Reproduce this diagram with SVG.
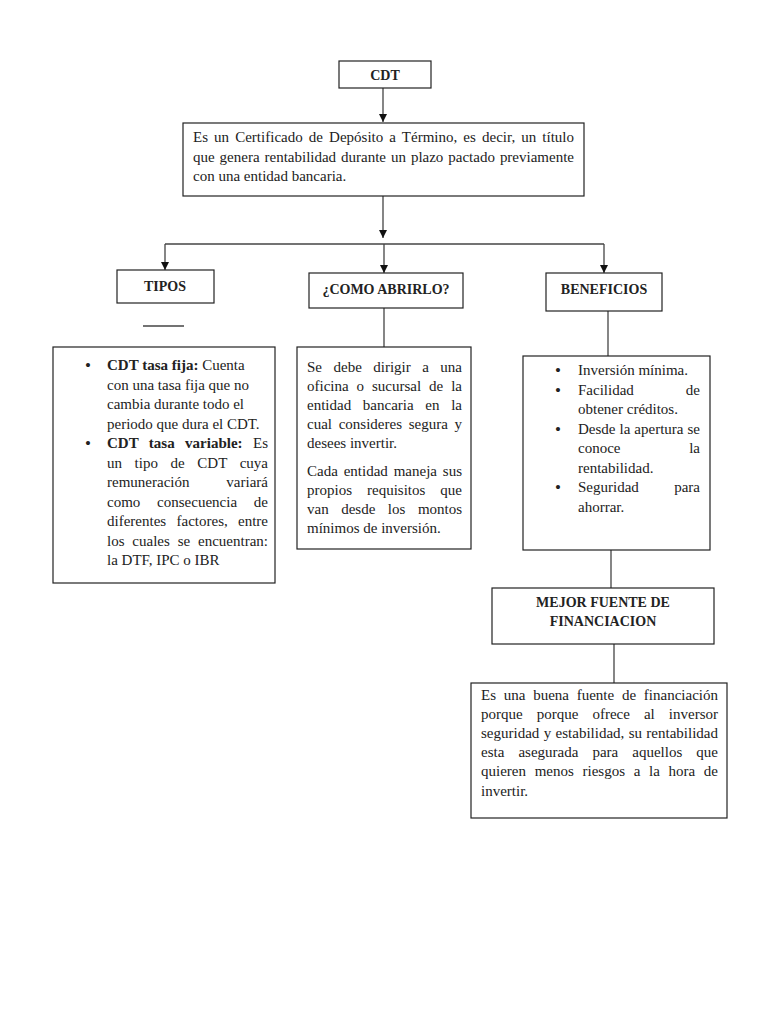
<svg xmlns="http://www.w3.org/2000/svg" width="768" height="1024" viewBox="0 0 768 1024">
<defs>
<style>
.box{fill:#fff;stroke:#222;stroke-width:1.2}
.ln{stroke:#444;stroke-width:1.3;fill:none}
text{font-family:"Liberation Serif","Times New Roman",serif;font-size:15px;fill:#222}
.h{font-weight:bold;font-size:14px;text-anchor:middle}
.b{font-weight:bold}
.e{text-anchor:end}
.bu{font-size:17px}
</style>
<marker id="ah" markerWidth="8" markerHeight="8" refX="8" refY="4" orient="auto" markerUnits="userSpaceOnUse" viewBox="0 0 8 8">
<path d="M0,0 L8,4 L0,8 Z" fill="#111"/>
</marker>
</defs>
<rect width="768" height="1024" fill="#fff"/>
<g id="connectors">
<line class="ln" x1="383" y1="88" x2="383" y2="122" marker-end="url(#ah)"/>
<line class="ln" x1="383" y1="196" x2="383" y2="238" marker-end="url(#ah)"/>
<polyline class="ln" points="165,244 604,244"/>
<line class="ln" x1="165" y1="244" x2="165" y2="270" marker-end="url(#ah)"/>
<line class="ln" x1="384" y1="244" x2="384" y2="273" marker-end="url(#ah)"/>
<line class="ln" x1="604" y1="244" x2="604" y2="273" marker-end="url(#ah)"/>
<line class="ln" x1="143" y1="326" x2="184" y2="326"/>
<line class="ln" x1="384" y1="308" x2="384" y2="347"/>
<line class="ln" x1="608" y1="311" x2="608" y2="356"/>
<line class="ln" x1="611" y1="550" x2="611" y2="588"/>
<line class="ln" x1="614" y1="644" x2="614" y2="683"/>
</g>
<g id="cdt">
<rect class="box" x="339" y="61" width="92" height="27"/>
<text class="h" x="385" y="80">CDT</text>
</g>
<g id="definicion">
<rect class="box" x="183" y="123" width="401" height="73"/>
<text x="193" y="142" word-spacing="2.3" textLength="381" lengthAdjust="spacing">Es un Certificado de Depósito a Término, es decir, un título</text>
<text x="193" y="162" word-spacing="1.2" textLength="381" lengthAdjust="spacing">que genera rentabilidad durante un plazo pactado previamente</text>
<text x="193" y="181">con una entidad bancaria.</text>
</g>
<g id="tipos">
<rect class="box" x="117" y="270" width="97" height="33"/>
<text class="h" x="165" y="291">TIPOS</text>
</g>
<g id="como">
<rect class="box" x="309" y="273" width="154" height="35"/>
<text class="h" x="386" y="294">¿COMO ABRIRLO?</text>
</g>
<g id="beneficios">
<rect class="box" x="546" y="273" width="116" height="38"/>
<text class="h" x="604" y="294">BENEFICIOS</text>
</g>
<g id="tipos-detalle">
<rect class="box" x="53" y="347" width="222" height="236"/>
<text class="bu" x="85" y="371">•</text>
<text x="107" y="370"><tspan class="b">CDT tasa fija:</tspan> Cuenta</text>
<text x="107" y="390">con una tasa fija que no</text>
<text x="107" y="409">cambia durante todo el</text>
<text x="107" y="429">periodo que dura el CDT.</text>
<text class="bu" x="85" y="449">•</text>
<text x="107" y="448" word-spacing="6.6" textLength="161" lengthAdjust="spacing"><tspan class="b">CDT tasa variable:</tspan> Es</text>
<text x="107" y="468" word-spacing="8.8" textLength="161" lengthAdjust="spacing">un tipo de CDT cuya</text>
<text x="107" y="487">remuneración</text><text class="e" x="268" y="487">variará</text>
<text x="107" y="507" word-spacing="13" textLength="161" lengthAdjust="spacing">como consecuencia de</text>
<text x="107" y="526" word-spacing="6.5" textLength="161" lengthAdjust="spacing">diferentes factores, entre</text>
<text x="107" y="546" word-spacing="4.1" textLength="161" lengthAdjust="spacing">los cuales se encuentran:</text>
<text x="107" y="565">la DTF, IPC o IBR</text>
</g>
<g id="como-detalle">
<rect class="box" x="297" y="347" width="174" height="202"/>
<text x="307" y="372" word-spacing="7.7" textLength="155" lengthAdjust="spacing">Se debe dirigir a una</text>
<text x="307" y="391" word-spacing="4.2" textLength="155" lengthAdjust="spacing">oficina o sucursal de la</text>
<text x="307" y="410" word-spacing="7.9" textLength="155" lengthAdjust="spacing">entidad bancaria en la</text>
<text x="307" y="429" word-spacing="2.9" textLength="155" lengthAdjust="spacing">cual consideres segura y</text>
<text x="307" y="448">desees invertir.</text>
<text x="307" y="476" word-spacing="2.1" textLength="155" lengthAdjust="spacing">Cada entidad maneja sus</text>
<text x="307" y="495" word-spacing="11.2" textLength="155" lengthAdjust="spacing">propios requisitos que</text>
<text x="307" y="514" word-spacing="8.8" textLength="155" lengthAdjust="spacing">van desde los montos</text>
<text x="307" y="533">mínimos de inversión.</text>
</g>
<g id="beneficios-detalle">
<rect class="box" x="523" y="356" width="187" height="194"/>
<text class="bu" x="555" y="376">•</text>
<text x="578" y="375">Inversión mínima.</text>
<text class="bu" x="555" y="396">•</text>
<text x="578" y="395">Facilidad</text><text class="e" x="700" y="395">de</text>
<text x="578" y="414">obtener créditos.</text>
<text class="bu" x="555" y="435">•</text>
<text x="578" y="434" word-spacing="0.3" textLength="122" lengthAdjust="spacing">Desde la apertura se</text>
<text x="578" y="453">conoce</text><text class="e" x="700" y="453">la</text>
<text x="578" y="473">rentabilidad.</text>
<text class="bu" x="555" y="493">•</text>
<text x="578" y="492">Seguridad</text><text class="e" x="700" y="492">para</text>
<text x="578" y="512">ahorrar.</text>
</g>
<g id="mejor-fuente">
<rect class="box" x="492" y="588" width="222" height="56"/>
<text class="h" x="603" y="607">MEJOR FUENTE DE</text>
<text class="h" x="603" y="626">FINANCIACION</text>
</g>
<g id="mejor-fuente-detalle">
<rect class="box" x="471" y="683" width="256" height="135"/>
<text x="481" y="700" word-spacing="4" textLength="237" lengthAdjust="spacing">Es una buena fuente de financiación</text>
<text x="481" y="719" word-spacing="10.3" textLength="237" lengthAdjust="spacing">porque porque ofrece al inversor</text>
<text x="481" y="738" word-spacing="0.6" textLength="237" lengthAdjust="spacing">seguridad y estabilidad, su rentabilidad</text>
<text x="481" y="757" word-spacing="10.3" textLength="237" lengthAdjust="spacing">esta asegurada para aquellos que</text>
<text x="481" y="776" word-spacing="4.9" textLength="237" lengthAdjust="spacing">quieren menos riesgos a la hora de</text>
<text x="481" y="796">invertir.</text>
</g>
</svg>
